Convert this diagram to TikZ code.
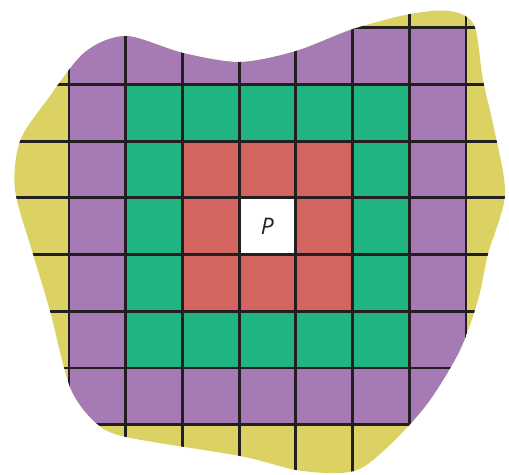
\documentclass[tikz,border=0pt]{standalone}
\usepackage{fontspec}
\setsansfont{Open Sans}
\usepackage{tikz}
\definecolor{ringyellow}{HTML}{DCD264}
\definecolor{ringpurple}{HTML}{A67AB4}
\definecolor{ringgreen}{HTML}{20B580}
\definecolor{ringred}{HTML}{D46460}
\definecolor{gridink}{HTML}{231F20}
\tikzset{
  gridline/.style={draw=gridink,line width=1.6pt},
  plabel/.style={font=\sffamily\itshape\fontsize{13}{13}\selectfont,text=gridink,inner sep=0pt},
}

\begin{document}
\begin{tikzpicture}[x=0.02cm,y=-0.02cm]
  \useasboundingbox (0,0) rectangle (509,474);
  \begin{scope}
    \clip plot[smooth cycle] coordinates {
      (126,36) (183,53) (240,62) (296,51) (353,29) (410,14) (450,11) (474,25)
      (483,80) (495,133) (505,195) (488,254) (478,300) (460,350) (430,400)
      (398,437) (365,466) (340,473) (296,470) (240,456) (126,437) (95,422)
      (70,387) (50,311) (33,254) (15,190) (20,141) (47,100) (85,52)};
    \fill[ringyellow] (0,0) rectangle (509,474);
    \foreach \r/\c in {3/ringpurple,2/ringgreen,1/ringred,0/white}
      \fill[\c] (267.45-28.35-56.7*\r,226.15-28.35-56.7*\r)
        rectangle (267.45+28.35+56.7*\r,226.15+28.35+56.7*\r);
    \foreach \i in {0,...,9}{
      \draw[gridline] (12.3+56.7*\i,-5) -- (12.3+56.7*\i,480);
      \draw[gridline] (-5,-29+56.7*\i) -- (515,-29+56.7*\i);
    }
  \end{scope}
  \node[plabel] (p) at (267.45,226.15) {P};
\end{tikzpicture}
\end{document}
